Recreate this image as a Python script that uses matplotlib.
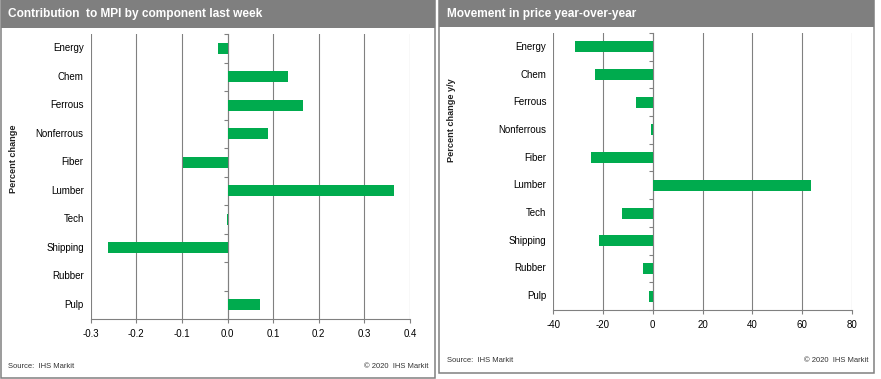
import matplotlib.pyplot as plt
from matplotlib.patches import Rectangle
from matplotlib.transforms import blended_transform_factory

plt.rcParams['font.family'] = ['Liberation Sans', 'DejaVu Sans']

categories = ['Energy', 'Chem', 'Ferrous', 'Nonferrous', 'Fiber',
              'Lumber', 'Tech', 'Shipping', 'Rubber', 'Pulp']
contribution = [-0.022, 0.133, 0.166, 0.089, -0.097, 0.365, -0.002, -0.261, 0.0, 0.071]
yoy_change = [-31.2, -23.1, -6.6, -0.6, -24.7, 63.8, -12.3, -21.5, -3.8, -1.4]

left_ticks = [-0.3, -0.2, -0.1, 0.0, 0.1, 0.2, 0.3, 0.4]
left_ticklabels = ['-0.3', '-0.2', '-0.1', '0.0', '0.1', '0.2', '0.3', '0.4']
right_ticks = [-40, -20, 0, 20, 40, 60, 80]

W, H = 881, 379
GREEN = '#00AB4E'
GRAY = '#808080'
HEADER = '#7F7F7F'

fig = plt.figure(figsize=(W / 100, H / 100), dpi=100)


def px(x, y, w, h):
    # pixel box (top-left origin) -> figure fraction
    return [x / W, 1 - (y + h) / H, w / W, h / H]


def panel(x0, x1, y1, head_h, title, ylabel, ylab_y, axbox, values, ticks, ticklabels, xlim):
    # frame and header
    fig.patches.append(Rectangle((x0 / W, 1 - y1 / H), (x1 - x0) / W, y1 / H,
                                 transform=fig.transFigure, fill=False,
                                 edgecolor=GRAY, lw=1.1))
    fig.patches.append(Rectangle((x0 / W, 1 - head_h / H), (x1 - x0) / W, head_h / H,
                                 transform=fig.transFigure, facecolor=HEADER,
                                 edgecolor=HEADER, lw=0))
    fig.text((x0 + 8) / W, 1 - 14 / H, title, color='white', fontsize=8.6,
             fontweight='bold', va='center', ha='left')
    fig.text((x0 + 8) / W, 1 - (y1 - 12) / H, 'Source:  IHS Markit',
             fontsize=5.5, va='center', ha='left', color='#333333')
    fig.text((x1 - 6) / W, 1 - (y1 - 12) / H, '\u00a9 2020  IHS Markit',
             fontsize=5.5, va='center', ha='right', color='#333333')
    fig.text((x0 + 13) / W, 1 - ylab_y / H, ylabel, rotation=90, fontsize=6.6,
             fontweight='bold', va='center', ha='center', color='#222222')

    ax = fig.add_axes(px(*axbox))
    ypos = list(range(len(categories)))
    ax.barh(ypos, values, height=0.4, color=GREEN, zorder=3)
    ax.set_xlim(*xlim)
    ax.set_ylim(len(categories) - 0.5, -0.5)
    ax.set_xticks(ticks)
    ax.set_xticklabels(ticklabels, fontsize=7)
    ax.tick_params(axis='x', length=3, color=GRAY, pad=4)
    ax.grid(axis='x', color=GRAY, lw=0.8, zorder=0)

    for s in ['top', 'right']:
        ax.spines[s].set_visible(False)
    ax.spines['bottom'].set_color(GRAY)
    ax.spines['bottom'].set_linewidth(0.8)
    ax.spines['left'].set_position(('data', 0))
    ax.spines['left'].set_color(GRAY)
    ax.spines['left'].set_linewidth(0.8)
    ax.set_yticks([i - 0.5 for i in range(len(categories) + 1)])
    ax.set_yticklabels([])
    ax.tick_params(axis='y', length=3, color=GRAY, direction='out')

    trans = blended_transform_factory(ax.transAxes, ax.transData)
    for i, c in enumerate(categories):
        ax.text(-7 / axbox[2], i, c, transform=trans, ha='right', va='center',
                fontsize=7)
    return ax


panel(0.5, 435, 378, 28, 'Contribution  to MPI by component last week',
      'Percent change', 159, (90.7, 34, 319.3, 285),
      contribution, left_ticks, left_ticklabels, (-0.3, 0.4))
panel(439, 874, 373, 27, 'Movement in price year-over-year',
      'Percent change y/y', 120, (553.3, 33, 298.4, 277),
      yoy_change, right_ticks, [str(t) for t in right_ticks], (-40, 80))

fig.savefig('out.png', dpi=100)
